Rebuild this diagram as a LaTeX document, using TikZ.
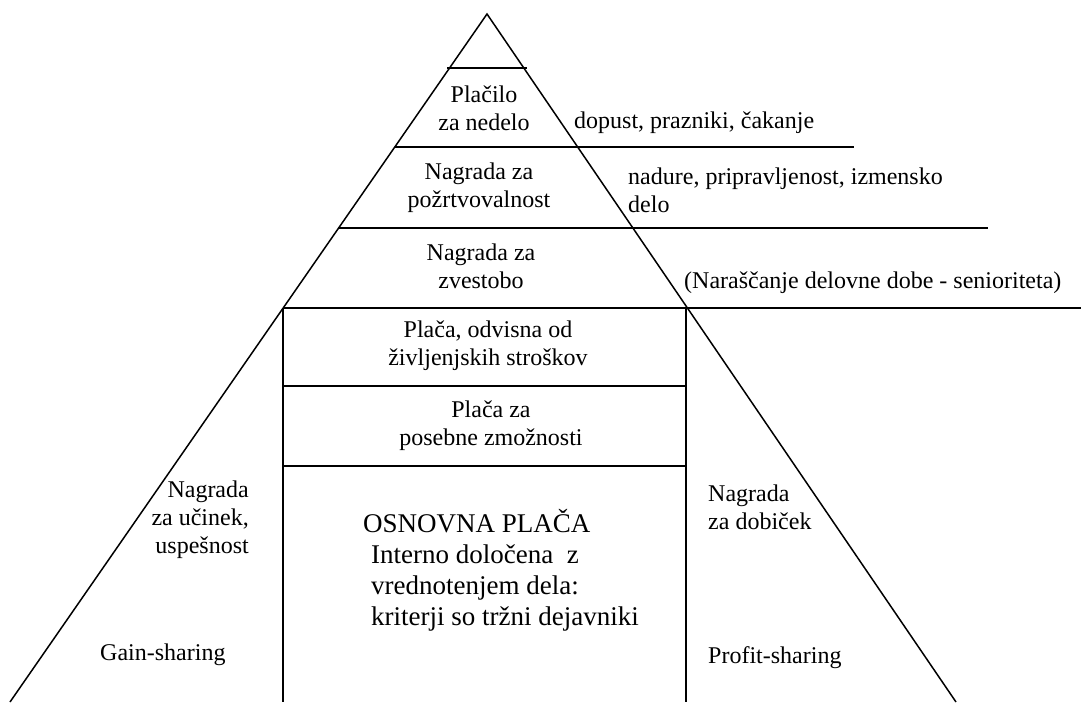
\documentclass[tikz,border=0pt]{standalone}
\usepackage{fontspec}
\setmainfont{Liberation Serif}
\usepackage{tikz}
\tikzset{
  txt/.style={inner sep=0pt, font=\fontsize{24}{28}\selectfont},
  big/.style={inner sep=0pt, font=\fontsize{27}{31}\selectfont},
  edge/.style={line width=1.5pt},
}

\begin{document}
\begin{tikzpicture}[x=1pt,y=-1pt]
    \useasboundingbox (0,0) rectangle (1081,702);
    \coordinate (apex) at (487,14);
    \coordinate (bl) at (10,702);
    \coordinate (br) at (956,702);
    \draw [edge] (bl) -- (apex) -- (br);
    % levels of the pyramid
    \draw [edge] (447,68) -- (527,68);
    \draw [edge] (395,147) -- (854,147);
    \draw [edge] (339,228) -- (988,228);
    \draw [edge] (283,308) -- (1081,308);
    % base box
    \draw [edge] (283,308) -- (283,702);
    \draw [edge] (686,308) -- (686,702);
    \draw [edge] (283,386) -- (686,386);
    \draw [edge] (283,466) -- (686,466);

    \node at (484,108) [txt,align=center] (placilo) {Plačilo\\za nedelo};
    \node at (574,123) [txt,anchor=west] (dopust) {dopust, prazniki, čakanje};
    \node at (479,188) [txt,align=center] (portv) {Nagrada za\\požrtvovalnost};
    \node at (628,190) [txt,anchor=west,align=left] (nadure) {nadure, pripravljenost, izmensko\\delo};
    \node at (481,266) [txt,align=center] (zvest) {Nagrada za\\zvestobo};
    \node at (684,283) [txt,anchor=west] (senior) {(Naraščanje delovne dobe - senioriteta)};
    \node at (488,346) [txt,align=center] (zivlj) {Plača, odvisna od\\življenjskih stroškov};
    \node at (491,426) [txt,align=center] (posebne) {Plača za\\posebne zmožnosti};
    \node at (371,570) [big,anchor=west,align=left] (osnovna) {\hspace*{-8pt}OSNOVNA PLAČA\\Interno določena\ \ z\\vrednotenjem dela:\\kriterji so tržni dejavniki};
    \node at (249,520) [txt,anchor=east,align=right] (ucinek) {Nagrada\\za učinek,\\uspešnost};
    \node at (100,655) [txt,anchor=west] (gain) {Gain-sharing};
    \node at (708,507) [txt,anchor=west,align=left] (dobicek) {Nagrada\\za dobiček};
    \node at (708,658) [txt,anchor=west] (profit) {Profit-sharing};
\end{tikzpicture}
\end{document}
